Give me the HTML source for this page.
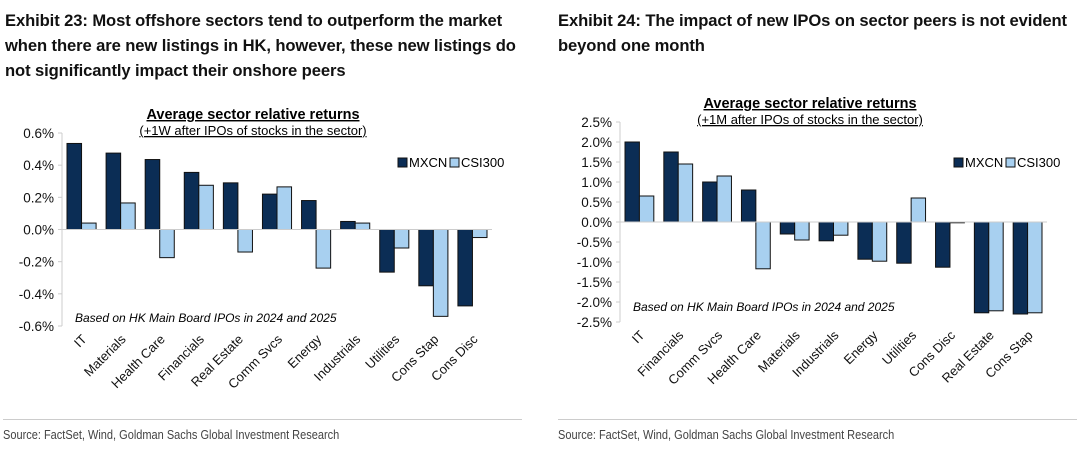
<!DOCTYPE html>
<html><head><meta charset="utf-8"><style>
body{margin:0;width:1080px;height:454px;background:#fff;overflow:hidden;font-family:"Liberation Sans",sans-serif}
.t{position:absolute;font-weight:bold;font-size:16.6px;line-height:25px;color:#111;white-space:nowrap;letter-spacing:-0.1px}
.src{position:absolute;top:428px;font-size:12.5px;color:#444;transform:scaleX(0.88);transform-origin:left}
.rule{position:absolute;top:419px;height:1px;background:#ccc}
</style></head><body>
<div class="t" style="left:5px;top:8px">Exhibit 23: Most offshore sectors tend to outperform the market<br>when there are new listings in HK, however, these new listings do<br>not significantly impact their onshore peers</div>
<div class="t" style="left:558px;top:8px">Exhibit 24: The impact of new IPOs on sector peers is not evident<br>beyond one month</div>
<svg id="c1" style="position:absolute;left:0;top:0" width="540" height="420"></svg>
<svg id="c2" style="position:absolute;left:540px;top:0" width="540" height="420"></svg>
<div class="rule" style="left:3px;width:519px"></div>
<div class="rule" style="left:558px;width:519px"></div>
<div class="src" style="left:3px">Source: FactSet, Wind, Goldman Sachs Global Investment Research</div>
<div class="src" style="left:558px">Source: FactSet, Wind, Goldman Sachs Global Investment Research</div>
<script>
const cats1=["IT","Materials","Health Care","Financials","Real Estate","Comm Svcs","Energy","Industrials","Utilities","Cons Stap","Cons Disc"];
const mxcn1=[0.535,0.475,0.435,0.355,0.29,0.22,0.18,0.05,-0.265,-0.35,-0.475];
const csi1=[0.04,0.165,-0.175,0.275,-0.14,0.265,-0.24,0.04,-0.115,-0.54,-0.05];
const ticks1=[0.6,0.4,0.2,0,-0.2,-0.4,-0.6];
const cats2=["IT","Financials","Comm Svcs","Health Care","Materials","Industrials","Energy","Utilities","Cons Disc","Real Estate","Cons Stap"];
const mxcn2=[2.0,1.75,1.0,0.8,-0.3,-0.47,-0.93,-1.03,-1.13,-2.27,-2.3];
const csi2=[0.65,1.45,1.15,-1.17,-0.45,-0.33,-0.98,0.6,-0.02,-2.22,-2.27];
const ticks2=[2.5,2.0,1.5,1.0,0.5,0,-0.5,-1.0,-1.5,-2.0,-2.5];
const NS="http://www.w3.org/2000/svg";
function mk(p,tag,a,txt){const e=document.createElementNS(NS,tag);for(const k in a)e.setAttribute(k,a[k]);if(txt!=null)e.textContent=txt;p.appendChild(e);return e;}
function draw(svg,cats,m,c,ticks,o){
  const y=v=>o.y0+(o.max-v)/(o.max-o.min)*(o.y1-o.y0);
  const bw=(o.x1-o.x0)/cats.length;
  let t=mk(svg,"text",{x:o.tx,y:o.y0-14,"text-anchor":"middle","font-size":14.5,"font-weight":"bold","text-decoration":"underline"},"Average sector relative returns");
  
  t=mk(svg,"text",{x:o.tx,y:o.y0+2,"text-anchor":"middle","font-size":13,"text-decoration":"underline"},o.sub);
  
  ticks.forEach(v=>{const l=mk(svg,"text",{x:o.x0-8,y:y(v)+5,"text-anchor":"end","font-size":13.5,fill:"#111"},(v>=0?"":"-")+Math.abs(v).toFixed(1)+"%");
    
    mk(svg,"line",{x1:o.x0-4,x2:o.x0,y1:y(v),y2:y(v),stroke:"#ccc"});});
  mk(svg,"line",{x1:o.x0,x2:o.x0,y1:y(o.max),y2:y(o.min),stroke:"#ccc"});
  cats.forEach((n,i)=>{
    const cx=o.x0+bw*(i+0.5), w=(bw-10)/2;
    [[m[i],"#0b2d55",cx-w],[c[i],"#a8d0f0",cx]].forEach(([v,col,x],k)=>{
      const r=mk(svg,"rect",{x:x,y:Math.min(y(v),y(0)),width:w,height:Math.abs(y(v)-y(0)),fill:col,stroke:"#111","stroke-width":1});
      
      
    });
    const l=mk(svg,"text",{transform:`translate(${cx+6},${y(o.min)+14}) rotate(-45)`,"text-anchor":"end","font-size":13,fill:"#111"},n);
    
  });
  mk(svg,"line",{x1:o.x0,x2:o.x1,y1:y(0),y2:y(0),stroke:"#ccc"});
  const lg=mk(svg,"g",{});
  
  mk(lg,"rect",{x:o.lx,y:o.ly-9,width:9,height:9,fill:"#0b2d55",stroke:"#111"});
  mk(lg,"text",{x:o.lx+11,y:o.ly,"font-size":13},"MXCN");
  mk(lg,"rect",{x:o.lx+52,y:o.ly-9,width:9,height:9,fill:"#a8d0f0",stroke:"#111"});
  mk(lg,"text",{x:o.lx+63,y:o.ly,"font-size":13},"CSI300");
  t=mk(svg,"text",{x:o.nx,y:o.ny,"font-size":12,"font-style":"italic"},"Based on HK Main Board IPOs in 2024 and 2025");
  
}
draw(document.getElementById("c1"),cats1,mxcn1,csi1,ticks1,{x0:62,x1:492,y0:133,y1:326,max:0.6,min:-0.6,tx:253,sub:"(+1W after IPOs of stocks in the sector)",lx:398,ly:167,nx:75,ny:322});
draw(document.getElementById("c2"),cats2,mxcn2,csi2,ticks2,{x0:80,x1:507,y0:122,y1:322,max:2.5,min:-2.5,tx:270,sub:"(+1M after IPOs of stocks in the sector)",lx:414,ly:167,nx:93,ny:311});
</script>
</body></html>
